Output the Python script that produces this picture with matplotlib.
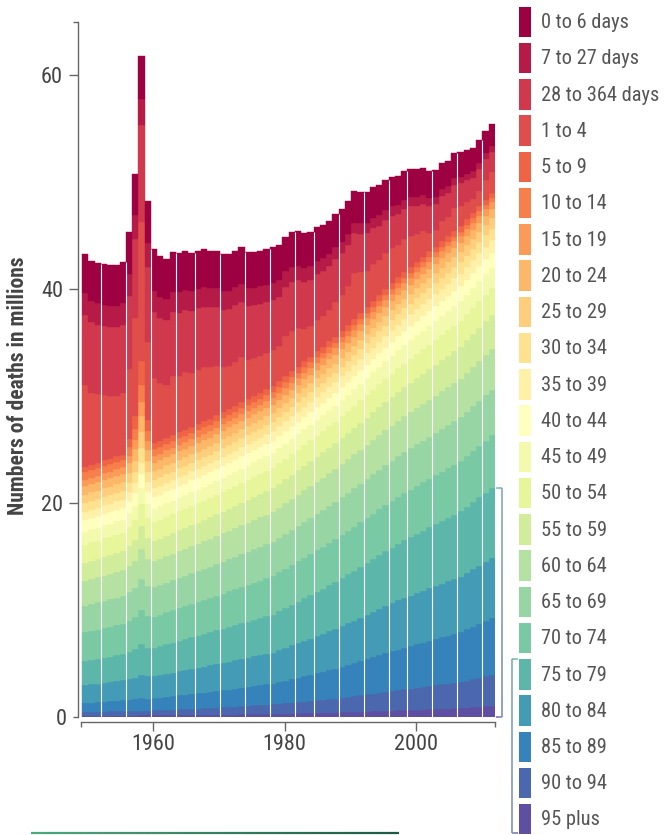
import numpy as np
import matplotlib.pyplot as plt
from matplotlib import font_manager
from matplotlib.collections import LineCollection
from matplotlib.colors import to_rgb
from matplotlib.patches import Rectangle
import matplotlib.transforms as mtransforms

fams = {f.name for f in font_manager.fontManager.ttflist}
pick = [f for f in ['Liberation Sans Narrow', 'Roboto Condensed', 'Open Sans Condensed'] if f in fams]
plt.rcParams['font.family'] = pick[:1] + ['Liberation Sans', 'DejaVu Sans']

ages = ['0 to 6 days', '7 to 27 days', '28 to 364 days', '1 to 4', '5 to 9', '10 to 14',
        '15 to 19', '20 to 24', '25 to 29', '30 to 34', '35 to 39', '40 to 44', '45 to 49',
        '50 to 54', '55 to 59', '60 to 64', '65 to 69', '70 to 74', '75 to 79', '80 to 84',
        '85 to 89', '90 to 94', '95 plus']
years = np.arange(1950, 2016)

# deaths in millions, one value per year 1950..2015
deaths = {
    '0 to 6 days': [3.70, 3.72, 3.74, 3.76, 3.78, 3.80, 3.82, 3.90, 3.90, 4.00,
                    3.90, 3.86, 3.82, 3.78, 3.74, 3.70, 3.66, 3.62, 3.58, 3.54,
                    3.50, 3.48, 3.46, 3.44, 3.42, 3.40, 3.38, 3.36, 3.34, 3.32,
                    3.30, 3.28, 3.26, 3.24, 3.22, 3.20, 3.18, 3.16, 3.14, 3.12,
                    3.10, 3.06, 3.02, 2.98, 2.94, 2.90, 2.86, 2.82, 2.78, 2.74,
                    2.70, 2.66, 2.62, 2.58, 2.54, 2.50, 2.46, 2.42, 2.38, 2.34,
                    2.30, 2.24, 2.18, 2.12, 2.06, 2.00],
    '7 to 27 days': [2.00, 2.00, 2.00, 2.00, 2.00, 2.00, 2.00, 2.10, 2.20, 2.50,
                     2.20, 1.98, 1.96, 1.94, 1.92, 1.90, 1.88, 1.86, 1.84, 1.82,
                     1.80, 1.78, 1.76, 1.74, 1.72, 1.70, 1.68, 1.66, 1.64, 1.62,
                     1.60, 1.55, 1.49, 1.44, 1.38, 1.33, 1.27, 1.22, 1.16, 1.11,
                     1.05, 1.04, 1.02, 1.01, 0.99, 0.98, 0.96, 0.95, 0.93, 0.92,
                     0.90, 0.87, 0.84, 0.81, 0.78, 0.75, 0.72, 0.69, 0.66, 0.63,
                     0.60, 0.60, 0.60, 0.60, 0.60, 0.60],
    '28 to 364 days': [6.60, 6.56, 6.52, 6.48, 6.44, 6.40, 6.36, 6.74, 7.40, 9.04,
                       7.04, 6.14, 6.08, 6.02, 5.96, 5.90, 5.84, 5.78, 5.72, 5.66,
                       5.60, 5.51, 5.42, 5.33, 5.24, 5.15, 5.06, 4.97, 4.88, 4.79,
                       4.70, 4.64, 4.58, 4.52, 4.46, 4.40, 4.34, 4.28, 4.22, 4.16,
                       4.10, 3.98, 3.86, 3.74, 3.62, 3.50, 3.38, 3.26, 3.14, 3.02,
                       2.90, 2.82, 2.74, 2.66, 2.58, 2.50, 2.42, 2.34, 2.26, 2.18,
                       2.10, 2.06, 2.02, 1.98, 1.94, 1.90],
    '1 to 4': [7.65, 6.74, 6.41, 6.09, 5.87, 5.65, 5.81, 6.56, 9.15, 13.00,
               7.32, 6.15, 5.46, 4.97, 5.57, 5.29, 5.40, 5.02, 5.11, 5.04,
               4.84, 4.64, 4.19, 3.99, 4.15, 4.24, 3.70, 3.50, 3.46, 3.35,
               3.41, 3.26, 3.75, 3.79, 3.60, 3.02, 2.83, 2.98, 2.88, 2.91,
               3.22, 3.33, 3.66, 4.26, 3.79, 3.39, 3.43, 3.24, 3.36, 3.27,
               3.00, 3.05, 2.95, 2.59, 2.38, 1.72, 1.53, 1.88, 1.76, 2.12,
               1.91, 1.58, 1.27, 1.44, 1.83, 1.90],
    '5 to 9': [0.50, 0.51, 0.51, 0.52, 0.52, 0.53, 0.53, 0.79, 1.20, 2.20,
               1.05, 0.55, 0.55, 0.55, 0.55, 0.55, 0.55, 0.55, 0.55, 0.55,
               0.55, 0.55, 0.55, 0.55, 0.55, 0.55, 0.55, 0.55, 0.55, 0.55,
               0.55, 0.55, 0.55, 0.55, 0.55, 0.55, 0.55, 0.55, 0.55, 0.55,
               0.55, 0.55, 0.55, 0.55, 0.55, 0.55, 0.55, 0.55, 0.55, 0.55,
               0.55, 0.55, 0.54, 0.54, 0.54, 0.54, 0.53, 0.53, 0.53, 0.52,
               0.52, 0.52, 0.51, 0.51, 0.50, 0.50],
    '10 to 14': [0.70, 0.70, 0.69, 0.69, 0.68, 0.68, 0.67, 0.81, 1.04, 1.61,
                 0.94, 0.65, 0.64, 0.64, 0.63, 0.63, 0.62, 0.62, 0.61, 0.61,
                 0.60, 0.60, 0.59, 0.59, 0.58, 0.58, 0.57, 0.57, 0.56, 0.56,
                 0.55, 0.55, 0.54, 0.54, 0.53, 0.53, 0.52, 0.52, 0.51, 0.51,
                 0.50, 0.50, 0.49, 0.49, 0.48, 0.48, 0.47, 0.47, 0.46, 0.46,
                 0.45, 0.45, 0.44, 0.44, 0.44, 0.44, 0.43, 0.43, 0.43, 0.42,
                 0.42, 0.42, 0.41, 0.41, 0.40, 0.40],
    '15 to 19': [0.60, 0.60, 0.60, 0.60, 0.60, 0.60, 0.60, 0.71, 0.88, 1.30,
                 0.81, 0.60, 0.60, 0.60, 0.60, 0.60, 0.60, 0.60, 0.60, 0.60,
                 0.60, 0.60, 0.60, 0.61, 0.61, 0.61, 0.61, 0.61, 0.62, 0.62,
                 0.62, 0.62, 0.62, 0.62, 0.62, 0.63, 0.63, 0.63, 0.63, 0.63,
                 0.63, 0.63, 0.63, 0.64, 0.64, 0.64, 0.64, 0.64, 0.65, 0.65,
                 0.65, 0.65, 0.65, 0.65, 0.65, 0.65, 0.65, 0.65, 0.65, 0.65,
                 0.65, 0.65, 0.65, 0.65, 0.65, 0.65],
    '20 to 24': [0.80, 0.80, 0.80, 0.80, 0.80, 0.80, 0.80, 0.91, 1.08, 1.50,
                 1.01, 0.80, 0.80, 0.80, 0.80, 0.80, 0.80, 0.80, 0.80, 0.80,
                 0.80, 0.80, 0.80, 0.80, 0.80, 0.80, 0.80, 0.80, 0.80, 0.80,
                 0.80, 0.80, 0.80, 0.81, 0.81, 0.81, 0.81, 0.81, 0.82, 0.82,
                 0.82, 0.82, 0.83, 0.83, 0.83, 0.84, 0.84, 0.84, 0.84, 0.85,
                 0.85, 0.85, 0.85, 0.85, 0.85, 0.85, 0.85, 0.85, 0.85, 0.85,
                 0.85, 0.85, 0.85, 0.85, 0.85, 0.85],
    '25 to 29': [0.80, 0.80, 0.80, 0.80, 0.80, 0.80, 0.80, 0.91, 1.08, 1.50,
                 1.01, 0.80, 0.80, 0.80, 0.80, 0.80, 0.80, 0.80, 0.80, 0.80,
                 0.80, 0.80, 0.80, 0.81, 0.81, 0.81, 0.81, 0.81, 0.82, 0.82,
                 0.82, 0.82, 0.83, 0.83, 0.83, 0.84, 0.84, 0.84, 0.84, 0.85,
                 0.85, 0.86, 0.86, 0.87, 0.88, 0.89, 0.89, 0.90, 0.91, 0.91,
                 0.92, 0.92, 0.93, 0.93, 0.93, 0.94, 0.94, 0.94, 0.94, 0.95,
                 0.95, 0.95, 0.95, 0.95, 0.95, 0.95],
    '30 to 34': [0.80, 0.80, 0.80, 0.80, 0.80, 0.80, 0.80, 0.89, 1.04, 1.40,
                 0.98, 0.80, 0.80, 0.81, 0.81, 0.81, 0.81, 0.81, 0.82, 0.82,
                 0.82, 0.82, 0.83, 0.83, 0.83, 0.84, 0.84, 0.84, 0.84, 0.85,
                 0.85, 0.86, 0.86, 0.87, 0.87, 0.88, 0.88, 0.89, 0.89, 0.90,
                 0.90, 0.91, 0.92, 0.93, 0.94, 0.95, 0.96, 0.97, 0.98, 0.99,
                 1.00, 1.01, 1.01, 1.02, 1.02, 1.03, 1.03, 1.04, 1.04, 1.05,
                 1.05, 1.05, 1.05, 1.05, 1.05, 1.05],
    '35 to 39': [0.75, 0.76, 0.76, 0.77, 0.77, 0.78, 0.78, 0.83, 0.89, 1.05,
                 0.88, 0.81, 0.81, 0.82, 0.82, 0.83, 0.83, 0.84, 0.84, 0.85,
                 0.85, 0.86, 0.86, 0.87, 0.87, 0.88, 0.88, 0.89, 0.89, 0.90,
                 0.90, 0.91, 0.92, 0.93, 0.94, 0.95, 0.96, 0.97, 0.98, 0.99,
                 1.00, 1.01, 1.02, 1.03, 1.04, 1.05, 1.06, 1.07, 1.08, 1.09,
                 1.10, 1.11, 1.12, 1.13, 1.14, 1.15, 1.16, 1.17, 1.18, 1.19,
                 1.20, 1.20, 1.20, 1.20, 1.20, 1.20],
    '40 to 44': [1.10, 1.10, 1.10, 1.10, 1.10, 1.10, 1.10, 1.14, 1.20, 1.35,
                 1.18, 1.10, 1.10, 1.10, 1.10, 1.10, 1.10, 1.10, 1.10, 1.10,
                 1.10, 1.11, 1.11, 1.12, 1.12, 1.13, 1.13, 1.14, 1.14, 1.15,
                 1.15, 1.16, 1.16, 1.17, 1.17, 1.18, 1.18, 1.19, 1.19, 1.20,
                 1.20, 1.21, 1.22, 1.23, 1.24, 1.25, 1.26, 1.27, 1.28, 1.29,
                 1.30, 1.31, 1.32, 1.33, 1.34, 1.35, 1.36, 1.37, 1.38, 1.39,
                 1.40, 1.40, 1.40, 1.40, 1.40, 1.40],
    '45 to 49': [1.20, 1.21, 1.21, 1.22, 1.22, 1.23, 1.23, 1.28, 1.34, 1.50,
                 1.33, 1.26, 1.26, 1.27, 1.27, 1.28, 1.28, 1.29, 1.29, 1.30,
                 1.30, 1.31, 1.32, 1.33, 1.34, 1.35, 1.36, 1.37, 1.38, 1.39,
                 1.40, 1.41, 1.42, 1.43, 1.44, 1.45, 1.46, 1.47, 1.48, 1.49,
                 1.50, 1.52, 1.54, 1.56, 1.58, 1.60, 1.62, 1.64, 1.66, 1.68,
                 1.70, 1.72, 1.73, 1.75, 1.76, 1.78, 1.79, 1.81, 1.82, 1.84,
                 1.85, 1.86, 1.87, 1.88, 1.89, 1.90],
    '50 to 54': [1.70, 1.71, 1.71, 1.72, 1.72, 1.73, 1.73, 1.79, 1.86, 2.05,
                 1.84, 1.76, 1.76, 1.77, 1.77, 1.78, 1.78, 1.79, 1.79, 1.80,
                 1.80, 1.81, 1.82, 1.83, 1.84, 1.85, 1.86, 1.87, 1.88, 1.89,
                 1.90, 1.91, 1.92, 1.93, 1.94, 1.95, 1.96, 1.97, 1.98, 1.99,
                 2.00, 2.02, 2.04, 2.06, 2.08, 2.10, 2.12, 2.14, 2.16, 2.18,
                 2.20, 2.22, 2.24, 2.26, 2.28, 2.30, 2.32, 2.34, 2.36, 2.38,
                 2.40, 2.42, 2.44, 2.46, 2.48, 2.50],
    '55 to 59': [1.70, 1.72, 1.73, 1.75, 1.76, 1.78, 1.79, 1.86, 1.94, 2.14,
                 1.94, 1.87, 1.88, 1.90, 1.91, 1.93, 1.94, 1.96, 1.97, 1.99,
                 2.00, 2.02, 2.04, 2.06, 2.08, 2.10, 2.12, 2.14, 2.16, 2.18,
                 2.20, 2.22, 2.24, 2.26, 2.28, 2.30, 2.32, 2.34, 2.36, 2.38,
                 2.40, 2.43, 2.46, 2.49, 2.52, 2.55, 2.58, 2.61, 2.64, 2.67,
                 2.70, 2.73, 2.76, 2.79, 2.82, 2.85, 2.88, 2.91, 2.94, 2.97,
                 3.00, 3.04, 3.08, 3.12, 3.16, 3.20],
    '60 to 64': [2.30, 2.32, 2.33, 2.35, 2.36, 2.38, 2.39, 2.46, 2.54, 2.74,
                 2.54, 2.47, 2.48, 2.50, 2.51, 2.53, 2.54, 2.56, 2.57, 2.59,
                 2.60, 2.62, 2.64, 2.66, 2.68, 2.70, 2.72, 2.74, 2.76, 2.78,
                 2.80, 2.83, 2.86, 2.89, 2.92, 2.95, 2.98, 3.01, 3.04, 3.07,
                 3.10, 3.12, 3.14, 3.16, 3.18, 3.20, 3.22, 3.24, 3.26, 3.28,
                 3.30, 3.33, 3.36, 3.39, 3.42, 3.45, 3.48, 3.51, 3.54, 3.57,
                 3.60, 3.64, 3.68, 3.72, 3.76, 3.80],
    '65 to 69': [2.50, 2.52, 2.54, 2.56, 2.58, 2.60, 2.62, 2.69, 2.78, 2.98,
                 2.79, 2.73, 2.75, 2.78, 2.80, 2.83, 2.85, 2.88, 2.90, 2.93,
                 2.95, 2.98, 3.00, 3.03, 3.05, 3.08, 3.10, 3.13, 3.15, 3.18,
                 3.20, 3.23, 3.26, 3.29, 3.32, 3.35, 3.38, 3.41, 3.44, 3.47,
                 3.50, 3.53, 3.56, 3.59, 3.62, 3.65, 3.68, 3.71, 3.74, 3.77,
                 3.80, 3.83, 3.86, 3.89, 3.92, 3.95, 3.98, 4.01, 4.04, 4.07,
                 4.10, 4.14, 4.18, 4.22, 4.26, 4.30],
    '70 to 74': [2.70, 2.72, 2.74, 2.76, 2.78, 2.80, 2.82, 2.89, 2.98, 3.18,
                 2.99, 2.93, 2.96, 2.99, 3.02, 3.05, 3.08, 3.11, 3.14, 3.17,
                 3.20, 3.24, 3.28, 3.32, 3.36, 3.40, 3.44, 3.48, 3.52, 3.56,
                 3.60, 3.64, 3.68, 3.72, 3.76, 3.80, 3.84, 3.88, 3.92, 3.96,
                 4.00, 4.04, 4.08, 4.12, 4.16, 4.20, 4.24, 4.28, 4.32, 4.36,
                 4.40, 4.43, 4.46, 4.49, 4.52, 4.55, 4.58, 4.61, 4.64, 4.67,
                 4.70, 4.74, 4.78, 4.82, 4.86, 4.90],
    '75 to 79': [2.24, 2.28, 2.31, 2.35, 2.38, 2.42, 2.46, 2.54, 2.65, 2.86,
                 2.69, 2.65, 2.70, 2.75, 2.80, 2.85, 2.90, 2.95, 3.00, 3.05,
                 3.10, 3.15, 3.19, 3.24, 3.28, 3.33, 3.37, 3.42, 3.46, 3.51,
                 3.55, 3.64, 3.72, 3.81, 3.89, 3.98, 4.06, 4.15, 4.23, 4.32,
                 4.40, 4.49, 4.58, 4.67, 4.76, 4.85, 4.94, 5.03, 5.12, 5.21,
                 5.30, 5.38, 5.46, 5.54, 5.62, 5.70, 5.78, 5.86, 5.94, 6.02,
                 6.10, 6.20, 6.30, 6.40, 6.50, 6.60],
    '80 to 84': [1.68, 1.71, 1.74, 1.78, 1.81, 1.84, 1.87, 1.93, 2.02, 2.17,
                 2.06, 2.05, 2.10, 2.15, 2.20, 2.25, 2.30, 2.35, 2.40, 2.45,
                 2.50, 2.54, 2.58, 2.62, 2.66, 2.70, 2.74, 2.78, 2.82, 2.86,
                 2.90, 2.98, 3.06, 3.14, 3.22, 3.30, 3.38, 3.46, 3.54, 3.62,
                 3.70, 3.79, 3.88, 3.97, 4.06, 4.15, 4.24, 4.33, 4.42, 4.51,
                 4.60, 4.66, 4.72, 4.78, 4.84, 4.90, 4.96, 5.02, 5.08, 5.14,
                 5.20, 5.28, 5.36, 5.44, 5.52, 5.60],
    '85 to 89': [0.84, 0.87, 0.89, 0.92, 0.94, 0.97, 1.00, 1.04, 1.09, 1.17,
                 1.13, 1.14, 1.18, 1.22, 1.26, 1.30, 1.34, 1.38, 1.42, 1.46,
                 1.50, 1.55, 1.59, 1.64, 1.68, 1.73, 1.77, 1.82, 1.86, 1.91,
                 1.95, 2.04, 2.12, 2.21, 2.29, 2.38, 2.46, 2.55, 2.63, 2.72,
                 2.80, 2.90, 3.00, 3.10, 3.20, 3.30, 3.40, 3.50, 3.60, 3.70,
                 3.80, 3.89, 3.97, 4.06, 4.14, 4.23, 4.31, 4.40, 4.48, 4.57,
                 4.65, 4.78, 4.91, 5.04, 5.17, 5.30],
    '90 to 94': [0.35, 0.36, 0.37, 0.38, 0.39, 0.40, 0.41, 0.42, 0.43, 0.44,
                 0.45, 0.47, 0.48, 0.50, 0.52, 0.54, 0.55, 0.57, 0.59, 0.60,
                 0.62, 0.65, 0.68, 0.70, 0.73, 0.76, 0.79, 0.82, 0.84, 0.87,
                 0.90, 0.94, 0.98, 1.02, 1.06, 1.10, 1.14, 1.18, 1.22, 1.26,
                 1.30, 1.36, 1.42, 1.48, 1.54, 1.60, 1.66, 1.72, 1.78, 1.84,
                 1.90, 1.96, 2.01, 2.07, 2.12, 2.18, 2.23, 2.29, 2.34, 2.40,
                 2.45, 2.54, 2.63, 2.72, 2.81, 2.90],
    '95 plus': [0.09, 0.09, 0.10, 0.10, 0.10, 0.11, 0.11, 0.11, 0.11, 0.12,
                0.12, 0.13, 0.13, 0.14, 0.14, 0.15, 0.15, 0.16, 0.16, 0.17,
                0.17, 0.18, 0.19, 0.19, 0.20, 0.21, 0.22, 0.23, 0.23, 0.24,
                0.25, 0.26, 0.28, 0.29, 0.30, 0.32, 0.33, 0.34, 0.35, 0.37,
                0.38, 0.40, 0.42, 0.44, 0.46, 0.48, 0.50, 0.52, 0.54, 0.56,
                0.58, 0.60, 0.62, 0.65, 0.67, 0.69, 0.71, 0.73, 0.76, 0.78,
                0.80, 0.84, 0.88, 0.92, 0.96, 1.00],
}

# bars after which the rendered chart shows a thin white seam
gap_after = [1952, 1956, 1960, 1964, 1967, 1971, 1975, 1979, 1983, 1986, 1990,
             1994, 1998, 2001, 2005, 2009, 2013]
axis_years = [1960, 1980, 2000]

colors = plt.cm.Spectral(np.linspace(0, 1, len(ages)))
W, H = 667, 835
fig = plt.figure(figsize=(W / 100, H / 100), dpi=100)
ax = fig.add_axes([80.7 / W, (H - 716.7) / H, (495 - 80.7) / W, (716.7 - 21.7) / H])

bottom = np.zeros(len(years))
for name, col in zip(ages[::-1], colors[::-1]):
    v = np.asarray(deaths[name])
    ax.bar(years, v, bottom=bottom, width=1.0, color=col, edgecolor=col, linewidth=0.3)
    bottom += v

tot = bottom.copy()
for g in gap_after:
    i = g - 1950
    ax.vlines(g + 0.5, 0, min(tot[i], tot[i + 1]), colors='white', linewidth=0.8)

# the time axis of the original runs 1949-2012 across the same width as the 66 bars
x0, x1 = 1949.29, 2015.5
ax.set_xlim(x0, x1)
ax.set_ylim(0, 65)
for s in ['top', 'right']:
    ax.spines[s].set_visible(False)
ax.spines['left'].set_position(('outward', 2.2))
ax.spines['bottom'].set_position(('outward', 3.6))
for s in ['left', 'bottom']:
    ax.spines[s].set_color('#666666')
    ax.spines[s].set_linewidth(1.0)

tick_pos = [x0 + (y - 1949) / (2012 - 1949) * (x1 - x0) for y in axis_years]
ax.set_xticks(tick_pos)
ax.set_xticklabels([str(y) for y in axis_years])
ax.set_xticks([x0, x1], minor=True)
ax.set_yticks([20, 40, 60])
ax.set_yticks([0, 65], minor=True)
ax.set_yticklabels(['0', ''], minor=True)
ax.tick_params(which='both', colors='#666666', labelcolor='#444444', labelsize=16, width=1.0)
ax.tick_params(which='major', length=6.5)
ax.tick_params(which='minor', length=3.6)
ax.tick_params(axis='y', which='both', pad=4)
ax.tick_params(axis='x', which='both', pad=2)

fig.text(18 / W, 1 - 386 / H, 'Numbers of deaths in millions', rotation=90,
         ha='center', va='center', fontsize=15.5, fontweight='bold', color='#444444')


def grad_line(axis, xs, ys, c0, c1, lw, transform, n=60):
    pts = []
    for j in range(len(xs) - 1):
        for t in np.linspace(0, 1, n, endpoint=False):
            pts.append((xs[j] + (xs[j + 1] - xs[j]) * t, ys[j] + (ys[j + 1] - ys[j]) * t))
    pts.append((xs[-1], ys[-1]))
    pts = np.array(pts)
    segs = np.stack([pts[:-1], pts[1:]], axis=1)
    a, b = np.array(to_rgb(c0)), np.array(to_rgb(c1))
    cs = [a + (b - a) * f for f in np.linspace(0, 1, len(segs))]
    lc = LineCollection(segs, colors=cs, linewidths=lw, transform=transform,
                        clip_on=False, capstyle='butt')
    axis.add_collection(lc)


def soften(c, k=0.2):
    c = np.array(to_rgb(c))
    return tuple(c + (1 - c) * k)


# bracket marking the 75+ share of the last bar
old = ['75 to 79', '80 to 84', '85 to 89', '90 to 94', '95 plus']
old_top = sum(deaths[k][-1] for k in old)
bt = mtransforms.blended_transform_factory(ax.transAxes, ax.transData)
xr0, xr1 = (496 - 80.7) / (495 - 80.7), (501.7 - 80.7) / (495 - 80.7)
grad_line(ax, [xr0, xr1, xr1, xr0], [old_top, old_top, 0, 0],
          soften(colors[ages.index('75 to 79')], .25), soften(colors[-1], .2), 1.2, bt)

deco = fig.add_axes([0, 0, 1, 1], facecolor='none')
deco.set_xlim(0, W)
deco.set_ylim(H, 0)
deco.axis('off')

# legend
for i, (name, col) in enumerate(zip(ages, colors)):
    y0 = 6.7 + 36.24 * i
    deco.add_patch(Rectangle((519, y0), 12, 30.5, color=col, linewidth=0))
    deco.text(541, y0 + 16, name, va='center', ha='left', fontsize=14.7, color='#555555')

ly0 = 6.7 + 36.24 * ages.index('75 to 79')
ly1 = 6.7 + 36.24 * ages.index('95 plus') + 29.5
grad_line(deco, [518, 512.3, 512.3, 518], [ly0, ly0, ly1, ly1],
          soften(colors[ages.index('75 to 79')], .25), soften(colors[-1], .2), 1.2, deco.transData)
grad_line(deco, [30.7, 399], [833.3, 833.3], '#4fa77c', '#1d5a44', 1.6, deco.transData)

fig.savefig('out.png', dpi=100)
